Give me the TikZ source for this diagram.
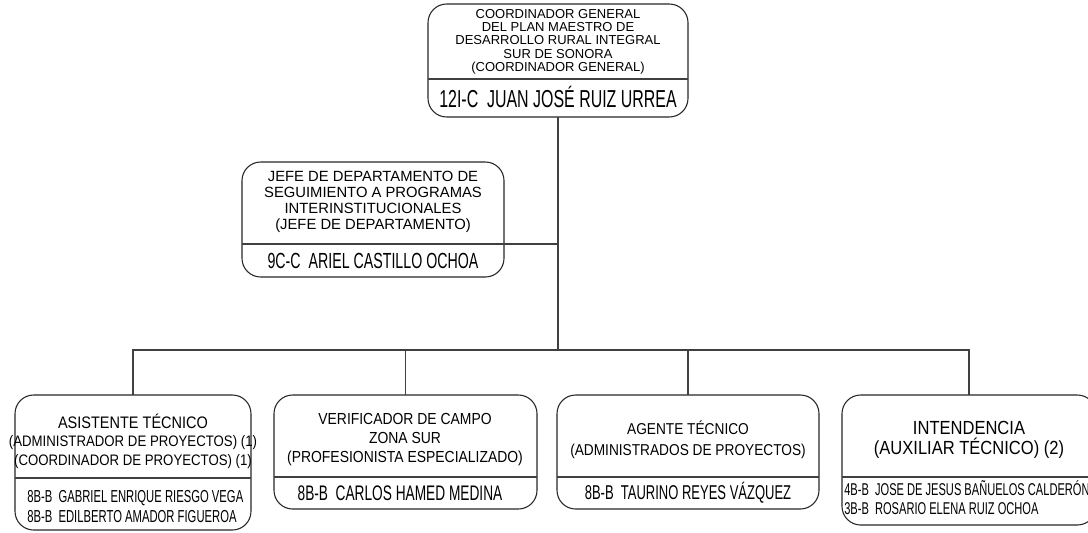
\documentclass[tikz,border=0pt]{standalone}
\usepackage{fontspec}
\setmainfont{Liberation Sans}
\newfontfamily\narrowfont[FakeStretch=0.65]{Liberation Sans}
\newfontfamily\semifont[FakeStretch=0.87]{Liberation Sans}
\begin{document}
\begin{tikzpicture}[x=0.75pt,y=-0.75pt]
  \tikzstyle{box}=[draw=black!85,line width=0.8pt,rounded corners=14pt,inner sep=0pt,outer sep=0pt]
  \tikzstyle{cargo}=[align=center,inner sep=0pt]
  \tikzstyle{nombre}=[inner sep=0pt]
  \tikzstyle{linea}=[draw=black!75,line width=0.8pt]
  \def\px{0.75pt} % one pixel
  \useasboundingbox (0,0) rectangle (1088,532);
  % coordinador general
  \node[box,minimum width=260*\px,minimum height=113*\px] (coord) at (558,60.5) {};
  \draw[linea] (coord.west |- 0,79) -- (coord.east |- 0,79);
  \node[cargo,font=\fontsize{9.75}{10}\selectfont] (coord-t) at (558,41.5)
    {COORDINADOR GENERAL\\DEL PLAN MAESTRO DE\\DESARROLLO RURAL INTEGRAL\\SUR DE SONORA\\(COORDINADOR GENERAL)};
  \node[nombre,font=\narrowfont\fontsize{18.4}{20}\selectfont] (coord-n) at (558,97) {12I-C\ \ JUAN JOSÉ RUIZ URREA};
  % jefe de departamento
  \node[box,minimum width=262*\px,minimum height=115*\px] (jefe) at (373,219.5) {};
  \draw[linea] (jefe.west |- 0,244) -- (jefe.east |- 0,244);
  \node[cargo,font=\fontsize{11.1}{12}\selectfont] (jefe-t) at (373,202)
    {JEFE DE DEPARTAMENTO DE\\SEGUIMIENTO A PROGRAMAS\\INTERINSTITUCIONALES\\(JEFE DE DEPARTAMENTO)};
  \node[nombre,font=\narrowfont\fontsize{16.4}{18}\selectfont] (jefe-n) at (373,261) {9C-C\ \ ARIEL CASTILLO OCHOA};
  % asistente tecnico
  \node[box,minimum width=236*\px,minimum height=135*\px] (asis) at (133,462.5) {};
  \draw[linea] (asis.west |- 0,478) -- (asis.east |- 0,478);
  \node[cargo,font=\semifont\fontsize{11.4}{13.9}\selectfont] (asis-t) at (133,441)
    {{\fontsize{12.5}{13.9}\selectfont ASISTENTE TÉCNICO}\\(ADMINISTRADOR DE PROYECTOS) (1)\\(COORDINADOR DE PROYECTOS) (1)};
  \node[nombre,align=left,anchor=west,font=\narrowfont\fontsize{13}{15}\selectfont] (asis-n) at (27,507)
    {8B-B\ \ GABRIEL ENRIQUE RIESGO VEGA\\8B-B\ \ EDILBERTO AMADOR FIGUEROA};
  % verificador de campo
  \node[box,minimum width=263*\px,minimum height=114*\px] (veri) at (405.5,452) {};
  \draw[linea] (veri.west |- 0,477) -- (veri.east |- 0,477);
  \node[cargo,font=\semifont\fontsize{12}{14.25}\selectfont] (veri-t) at (405,440)
    {VERIFICADOR DE CAMPO\\ZONA SUR\\(PROFESIONISTA ESPECIALIZADO)};
  \node[nombre,font=\narrowfont\fontsize{15.8}{18}\selectfont] (veri-n) at (400,493) {8B-B\ \ CARLOS HAMED MEDINA};
  % agente tecnico
  \node[box,minimum width=262*\px,minimum height=114*\px] (agen) at (688,452) {};
  \draw[linea] (agen.west |- 0,477) -- (agen.east |- 0,477);
  \node[cargo,font=\semifont\fontsize{11.8}{15.75}\selectfont] (agen-t) at (688,440)
    {AGENTE TÉCNICO\\(ADMINISTRADOS DE PROYECTOS)};
  \node[nombre,font=\narrowfont\fontsize{15}{18}\selectfont] (agen-n) at (688,493) {8B-B\ \ TAURINO REYES VÁZQUEZ};
  % intendencia
  \node[box,minimum width=254*\px,minimum height=130*\px] (inte) at (969,460) {};
  \draw[linea] (inte.west |- 0,477) -- (inte.east |- 0,477);
  \node[cargo,font=\semifont\fontsize{14.25}{15}\selectfont] (inte-t) at (969,440)
    {INTENDENCIA\\(AUXILIAR TÉCNICO) (2)};
  \node[nombre,align=left,anchor=west,font=\narrowfont\fontsize{12.8}{14.25}\selectfont] (inte-n) at (844,497.5)
    {4B-B\ \ JOSE DE JESUS BAÑUELOS CALDERÓN\\3B-B\ \ ROSARIO ELENA RUIZ OCHOA};
  % conectores
  \coordinate (bus) at (558,350);
  \draw[linea] (coord.south) -- (bus);
  \draw[linea] (jefe.east |- 0,244) -- (bus |- 0,244);
  \draw[linea] (asis.north) |- (bus) -| (inte.north);
  \draw[linea] (veri.north) -- (veri.north |- bus);
  \draw[linea] (agen.north) -- (agen.north |- bus);
\end{tikzpicture}
\end{document}
